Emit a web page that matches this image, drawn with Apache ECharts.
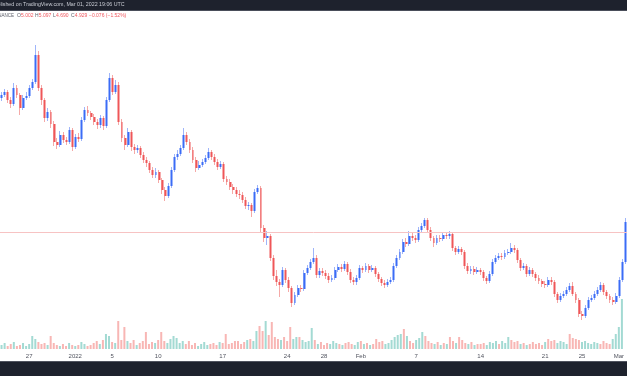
<!DOCTYPE html>
<html>
<head>
<meta charset="utf-8">
<script src="https://cdn.jsdelivr.net/npm/echarts@6/dist/echarts.min.js"></script>
<style>
html,body{margin:0;padding:0;background:#fff;}
#c{width:627px;height:376px;}
</style>
</head>
<body>
<div id="c"></div>
<script>
// 8h candles, Dec 24 2021 -> Mar 1 2022 (prices)
const firstOpen = 6.27;
const closes = [
6.30,6.33,6.25,6.21,6.37,6.30,6.17,6.27,6.29,6.37,
6.43,6.70,6.37,6.25,6.07,6.13,6.01,5.83,5.80,5.90,
5.85,5.83,5.95,5.78,5.88,5.86,6.05,6.15,6.12,6.08,
6.03,6.00,6.07,5.99,6.25,6.47,6.33,6.40,6.03,5.87,
5.80,5.93,5.78,5.75,5.77,5.70,5.65,5.62,5.55,5.50,
5.53,5.45,5.35,5.29,5.39,5.55,5.68,5.71,5.77,5.90,
5.83,5.75,5.65,5.57,5.60,5.63,5.67,5.73,5.68,5.63,
5.58,5.61,5.46,5.43,5.38,5.35,5.31,5.30,5.25,5.19,
5.20,5.14,5.33,5.37,4.97,4.87,4.89,4.67,4.49,4.43,
4.40,4.55,4.45,4.37,4.22,4.30,4.37,4.36,4.52,4.57,
4.63,4.67,4.50,4.54,4.52,4.49,4.45,4.47,4.55,4.58,
4.56,4.61,4.53,4.45,4.43,4.47,4.57,4.55,4.59,4.55,
4.57,4.51,4.46,4.42,4.40,4.43,4.45,4.59,4.67,4.73,
4.83,4.81,4.89,4.87,4.85,4.95,4.99,5.05,4.95,4.87,
4.82,4.87,4.86,4.90,4.89,4.91,4.77,4.73,4.76,4.73,
4.59,4.54,4.56,4.53,4.55,4.53,4.47,4.44,4.51,4.63,
4.67,4.69,4.68,4.72,4.73,4.77,4.75,4.65,4.57,4.59,
4.51,4.55,4.51,4.47,4.44,4.41,4.40,4.45,4.43,4.31,
4.25,4.29,4.31,4.35,4.39,4.31,4.25,4.11,4.09,4.17,
4.25,4.27,4.31,4.35,4.40,4.33,4.29,4.25,4.23,4.29,
4.45,4.63,5.03
];
const highs = [
6.33,6.36,6.35,6.28,6.42,6.40,6.32,6.30,6.33,6.40,
6.46,6.80,6.74,6.40,6.27,6.17,6.15,6.04,5.87,5.94,
5.93,5.88,5.98,5.97,5.91,5.92,6.08,6.18,6.19,6.14,
6.11,6.06,6.10,6.09,6.28,6.52,6.50,6.45,6.43,6.06,
5.90,5.97,5.95,5.81,5.80,5.79,5.73,5.68,5.64,5.58,
5.57,5.55,5.47,5.38,5.42,5.58,5.71,5.75,5.80,5.97,
5.93,5.86,5.78,5.68,5.64,5.66,5.70,5.77,5.75,5.71,
5.66,5.64,5.63,5.49,5.46,5.41,5.38,5.35,5.33,5.28,
5.23,5.22,5.36,5.40,5.39,5.00,4.94,4.91,4.70,4.55,
4.46,4.58,4.57,4.48,4.39,4.33,4.40,4.40,4.55,4.60,
4.66,4.77,4.70,4.57,4.57,4.55,4.52,4.50,4.58,4.61,
4.61,4.64,4.63,4.56,4.48,4.50,4.60,4.59,4.62,4.61,
4.60,4.59,4.53,4.48,4.45,4.46,4.48,4.62,4.70,4.76,
4.86,4.87,4.94,4.92,4.90,4.98,5.02,5.07,5.07,4.98,
4.89,4.90,4.90,4.93,4.93,4.94,4.93,4.79,4.79,4.78,
4.75,4.62,4.59,4.59,4.58,4.57,4.55,4.49,4.54,4.66,
4.70,4.72,4.72,4.75,4.76,4.82,4.80,4.77,4.67,4.62,
4.61,4.58,4.57,4.53,4.50,4.46,4.44,4.48,4.48,4.45,
4.33,4.32,4.34,4.38,4.42,4.43,4.33,4.27,4.14,4.20,
4.28,4.30,4.34,4.38,4.43,4.42,4.35,4.31,4.28,4.32,
4.48,4.66,5.07
];
const lows = [
6.24,6.28,6.22,6.17,6.19,6.27,6.10,6.15,6.25,6.27,
6.35,6.41,6.34,6.20,6.03,6.04,5.97,5.79,5.76,5.78,
5.82,5.80,5.81,5.74,5.76,5.83,5.84,6.03,6.09,6.05,
6.00,5.96,5.97,5.95,5.97,6.23,6.30,6.31,6.00,5.83,
5.75,5.78,5.74,5.71,5.72,5.67,5.62,5.58,5.52,5.47,
5.47,5.42,5.31,5.24,5.27,5.37,5.53,5.65,5.69,5.75,
5.80,5.72,5.62,5.53,5.55,5.58,5.61,5.65,5.65,5.60,
5.55,5.56,5.43,5.40,5.35,5.31,5.28,5.26,5.22,5.16,
5.15,5.08,5.12,5.31,4.93,4.83,4.80,4.64,4.45,4.39,
4.28,4.38,4.42,4.33,4.18,4.20,4.28,4.33,4.34,4.50,
4.55,4.61,4.47,4.47,4.49,4.46,4.42,4.43,4.45,4.53,
4.53,4.54,4.50,4.42,4.40,4.40,4.45,4.52,4.53,4.52,
4.53,4.48,4.43,4.39,4.37,4.38,4.41,4.43,4.57,4.65,
4.71,4.78,4.79,4.84,4.82,4.83,4.93,4.97,4.92,4.84,
4.78,4.80,4.83,4.84,4.86,4.86,4.74,4.70,4.71,4.70,
4.56,4.51,4.51,4.50,4.51,4.50,4.44,4.41,4.42,4.49,
4.61,4.65,4.65,4.66,4.70,4.71,4.72,4.62,4.54,4.55,
4.48,4.49,4.48,4.44,4.41,4.38,4.37,4.38,4.40,4.28,
4.22,4.23,4.27,4.29,4.33,4.29,4.22,4.08,4.05,4.07,
4.15,4.23,4.25,4.29,4.33,4.30,4.26,4.22,4.20,4.21,
4.27,4.43,4.61
];
const volumes = [
4,6,3,5,7,3,4,6,3,5,
13,10,7,5,6,4,13,6,4,3,
5,3,6,4,3,4,7,5,3,4,
6,8,5,9,15,13,7,6,28,9,
22,8,6,9,4,6,8,17,5,7,
6,9,17,8,6,10,13,11,6,8,
5,8,4,6,3,5,7,4,5,6,
4,7,6,15,5,6,8,8,5,7,
9,10,8,18,23,18,28,14,27,12,
10,9,12,8,22,10,12,12,9,7,
8,21,9,5,7,4,6,5,8,6,
5,4,6,7,5,4,7,8,5,6,
4,5,10,7,8,5,6,9,12,14,
15,20,13,8,6,9,11,17,13,8,
6,5,7,4,6,5,12,8,6,12,
9,6,5,7,4,5,5,6,4,7,
6,8,5,8,6,12,9,7,8,5,
6,4,5,7,5,6,4,7,10,8,
9,6,8,7,5,15,11,10,9,7,
8,6,5,7,6,5,8,6,5,10,
15,22,50
];
const tickIdx  = [9,24,36,51,72,93,105,117,135,156,177,189,201];
const tickText = ['27','2022','5','10','17','24','28','Feb','7','14','21','25','Mar'];
const lastPrice = 4.929;
const headerText = 'Published on TradingView.com, Mar 01, 2022 19:06 UTC';
const legendParts = [['BINANCE',''],['O','5.002'],['H','5.097'],['L','4.690'],['C','4.929'],['','−0.076 (−1.52%)']];

const N = closes.length;
const cats = [];
for (let i = 0; i < N; i++) cats.push(String(i));
const opens = closes.map((c, i) => i === 0 ? firstOpen : closes[i - 1]);
const wickData = closes.map((c, i) => [opens[i], c, lows[i], highs[i]]);
const bodyData = closes.map((c, i) => [opens[i], c, Math.min(opens[i], c), Math.max(opens[i], c)]);
const volData = volumes.map((v, i) => ({
  value: v,
  itemStyle: { color: closes[i] >= opens[i] ? '#a3dad3' : '#f8b6b4' }
}));
const tickMap = {};
tickIdx.forEach((t, k) => tickMap[t] = tickText[k]);

const font = '"Liberation Sans", Arial, sans-serif';
const tfont = '5px ' + font;
// layout of legend pieces: [labelX, valueX]
const legendPos = [[-6, 0], [17, 21], [35, 38.8], [53, 56], [71, 74.8], [0, 89]];
const legendEls = [];
legendParts.forEach((p, k) => {
  if (p[0]) {
    legendEls.push({ type: 'text', x: legendPos[k][0], y: 16, z: 100,
      style: { text: p[0], fill: '#5d606b', font: (k === 0 ? '4.5px ' + font : tfont), verticalAlign: 'middle' } });
  }
  if (p[1]) {
    legendEls.push({ type: 'text', x: legendPos[k][1], y: 16, z: 100,
      style: { text: p[1], fill: '#f0585f', font: tfont, verticalAlign: 'middle' } });
  }
});

const chart = echarts.init(document.getElementById('c'), null, { renderer: 'canvas' });
chart.setOption({
  animation: false,
  backgroundColor: '#ffffff',
  grid: [
    { left: 0, right: 0, top: 0, height: 376 },
    { left: 0, right: 0, top: 289, height: 60 }
  ],
  xAxis: [
    { type: 'category', data: cats, gridIndex: 0, show: false },
    { type: 'category', data: cats, gridIndex: 1,
      axisLine: { show: false }, axisTick: { show: false }, splitLine: { show: false },
      axisLabel: {
        show: true, margin: 4, fontSize: 6, color: '#50535e', fontFamily: font,
        interval: (idx) => tickMap[idx] !== undefined,
        formatter: (v, idx) => tickMap[idx] !== undefined ? tickMap[idx] : ''
      } }
  ],
  yAxis: [
    { type: 'value', gridIndex: 0, min: 3.49, max: 7.25, show: false },
    { type: 'value', gridIndex: 1, min: 0, max: 60, show: false }
  ],
  series: [
    { type: 'bar', xAxisIndex: 1, yAxisIndex: 1, data: volData, barWidth: 2, z: 1 },
    { type: 'candlestick', xAxisIndex: 0, yAxisIndex: 0, data: wickData, barWidth: 1, z: 2,
      itemStyle: { color: 'transparent', color0: 'transparent',
        borderColor: '#9fb5fa', borderColor0: '#f5a9a7', borderWidth: 1 } },
    { type: 'candlestick', xAxisIndex: 0, yAxisIndex: 0, data: bodyData, barWidth: 2.4, z: 3,
      itemStyle: { color: '#3b6cf6', color0: '#ef5658',
        borderColor: '#3b6cf6', borderColor0: '#ef5658', borderWidth: 0 },
      markLine: { silent: true, symbol: 'none', label: { show: false },
        lineStyle: { color: '#f7c3c3', width: 1, type: 'solid' },
        data: [{ yAxis: lastPrice }] } }
  ],
  graphic: [
    { type: 'rect', z: 100, shape: { x: 0, y: 0, width: 627, height: 10 }, style: { fill: '#1e222d' } },
    { type: 'rect', z: 100, shape: { x: 0, y: 10, width: 627, height: 1 }, style: { fill: '#4a4e5a' } },
    { type: 'text', z: 101, x: -9, y: 5,
      style: { text: headerText, fill: '#c9ccd4', font: '5.3px ' + font, verticalAlign: 'middle' } },
    { type: 'rect', z: 100, shape: { x: 0, y: 361, width: 627, height: 15 }, style: { fill: '#1e222d' } },
    { type: 'rect', z: 100, shape: { x: 0, y: 361, width: 627, height: 1 }, style: { fill: '#50535e' } }
  ].concat(legendEls)
});
</script>
</body>
</html>
